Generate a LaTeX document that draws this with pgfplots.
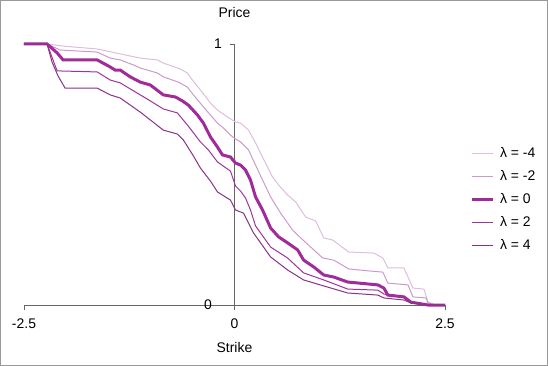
\documentclass[border=0pt]{standalone}
\usepackage{fontspec}
\setmainfont{Liberation Sans}
\usepackage{pgfplots}
\pgfplotsset{compat=1.18}
\definecolor{lamA}{rgb}{0.87,0.74,0.87}
\definecolor{lamB}{rgb}{0.80,0.60,0.80}
\definecolor{lamC}{rgb}{0.63,0.17,0.60}
\definecolor{lamD}{rgb}{0.62,0.20,0.62}
\definecolor{lamE}{rgb}{0.53,0.20,0.53}
\newcommand\chartfont{\fontsize{14}{16}\selectfont}
\begin{document}
\begin{tikzpicture}
\path[use as bounding box] (-24bp,-61bp) rectangle (524bp,305bp);
\begin{axis}[
    scale only axis,
    width=421bp, height=261bp,
    xmin=-2.5, xmax=2.5, ymin=0, ymax=1,
    axis lines=middle,
    axis line style={-, black!60, line width=0.8bp},
    clip=false,
    xtick={-2.5,0,2.5},
    ytick={1},
    extra y ticks={0},
    extra y tick style={yticklabel style={xshift=-10bp}},
    hide obscured x ticks=false, hide obscured y ticks=false,
    tick align=outside,
    major tick length=5bp,
    tick style={black!60, line width=0.8bp},
    /pgf/number format/assume math mode=true,
    tick label style={font=\chartfont},
    xticklabel style={anchor=north, yshift=-5bp},
    yticklabel style={anchor=east, xshift=-4bp},
    title={Price},
    title style={font=\chartfont, at={(axis description cs:0.5,1)}, anchor=center, yshift=26bp},
    xlabel={Strike},
    xlabel style={font=\chartfont, at={(axis description cs:0.5,0)}, anchor=center, yshift=-43bp},
    legend style={font=\chartfont, draw=none, fill=none, at={(axis description cs:1.059,0.405)},
        anchor=west, row sep=7.5bp, column sep=4bp, inner sep=0pt},
    legend cell align=left,
    legend image code/.code={\draw[#1] (0bp,0bp) -- (21bp,0bp);},
]
\addplot[lamA, line width=1bp] coordinates {
(-2.5,1) (-2.226,1) (-2.036,0.992) (-1.631,0.981) (-1.357,0.962) (-1.119,0.946)
(-0.917,0.939) (-0.845,0.927) (-0.643,0.904) (-0.560,0.889) (-0.5,0.862) (-0.405,0.824)
(-0.286,0.774) (-0.202,0.747) (-0.083,0.720) (0.012,0.701) (0.071,0.697) (0.167,0.670)
(0.25,0.621) (0.333,0.567) (0.452,0.490) (0.524,0.460) (0.631,0.421) (0.726,0.395)
(0.845,0.337) (0.964,0.322) (1.060,0.257) (1.167,0.249) (1.357,0.203) (1.655,0.199)
(1.762,0.180) (1.821,0.142) (2.012,0.142) (2.119,0.065) (2.25,0.061) (2.298,0.011)
(2.393,0) (2.5,0)};
\addlegendentry{λ = -4}
\addplot[lamB, line width=1bp] coordinates {
(-2.5,1) (-2.226,1) (-2.071,0.977) (-1.631,0.969) (-1.476,0.946) (-1.357,0.939)
(-1.202,0.920) (-1.119,0.908) (-0.917,0.889) (-0.845,0.874) (-0.667,0.854) (-0.560,0.835)
(-0.488,0.805) (-0.369,0.759) (-0.286,0.728) (-0.202,0.697) (-0.131,0.678) (-0.048,0.651)
(0.012,0.636) (0.071,0.625) (0.167,0.594) (0.25,0.536) (0.333,0.479) (0.429,0.414)
(0.548,0.352) (0.690,0.287) (0.786,0.257) (0.905,0.222) (1.048,0.180) (1.179,0.172)
(1.357,0.138) (1.619,0.130) (1.762,0.126) (1.821,0.084) (2.060,0.077) (2.119,0.031)
(2.274,0.027) (2.298,0.008) (2.369,0) (2.5,0)};
\addlegendentry{λ = -2}
\addplot[lamC, line width=3bp] coordinates {
(-2.5,1) (-2.226,1) (-2.107,0.966) (-2.036,0.939) (-1.631,0.939) (-1.476,0.912)
(-1.417,0.900) (-1.357,0.900) (-1.238,0.874) (-1.119,0.854) (-1.0,0.843) (-0.845,0.805)
(-0.702,0.797) (-0.619,0.782) (-0.548,0.766) (-0.440,0.728) (-0.369,0.697) (-0.286,0.644)
(-0.202,0.605) (-0.143,0.575) (-0.048,0.567) (0.012,0.544) (0.071,0.536) (0.131,0.517)
(0.190,0.479) (0.250,0.414) (0.333,0.364) (0.429,0.295) (0.524,0.261) (0.631,0.238)
(0.750,0.211) (0.821,0.172) (0.940,0.146) (1.060,0.115) (1.179,0.107) (1.345,0.088)
(1.702,0.077) (1.774,0.065) (1.821,0.038) (2.012,0.031) (2.095,0.011) (2.298,0) (2.5,0)};
\addlegendentry{λ = 0}
\addplot[lamD, line width=1bp] coordinates {
(-2.5,1) (-2.226,1) (-2.107,0.897) (-1.631,0.893) (-1.476,0.862) (-1.357,0.851)
(-1.238,0.828) (-1.119,0.805) (-1.0,0.782) (-0.845,0.751) (-0.679,0.736) (-0.560,0.690)
(-0.405,0.625) (-0.310,0.594) (-0.202,0.548) (-0.048,0.513) (0.012,0.456) (0.071,0.437)
(0.131,0.410) (0.190,0.364) (0.25,0.303) (0.429,0.222) (0.631,0.180) (0.821,0.123)
(1.060,0.096) (1.345,0.061) (1.702,0.057) (1.774,0.042) (2.012,0.031) (2.095,0.011)
(2.298,0) (2.5,0)};
\addlegendentry{λ = 2}
\addplot[lamE, line width=1bp] coordinates {
(-2.5,1) (-2.226,1) (-2.167,0.931) (-2.095,0.877) (-2.012,0.831) (-1.631,0.831)
(-1.476,0.805) (-1.357,0.793) (-1.119,0.739) (-1.0,0.709) (-0.845,0.670) (-0.679,0.655)
(-0.607,0.632) (-0.488,0.571) (-0.405,0.525) (-0.286,0.475) (-0.202,0.433) (-0.048,0.402)
(0.012,0.364) (0.107,0.352) (0.226,0.276) (0.429,0.184) (0.631,0.134) (0.821,0.096)
(1.060,0.073) (1.345,0.046) (1.702,0.038) (1.774,0.027) (2.012,0.019) (2.095,0.008)
(2.298,0) (2.5,0)};
\addlegendentry{λ = 4}
\end{axis}
\draw[black!40, line width=1.2bp] (-23.4bp,-60.4bp) rectangle (523.4bp,304.4bp);
\end{tikzpicture}
\end{document}
